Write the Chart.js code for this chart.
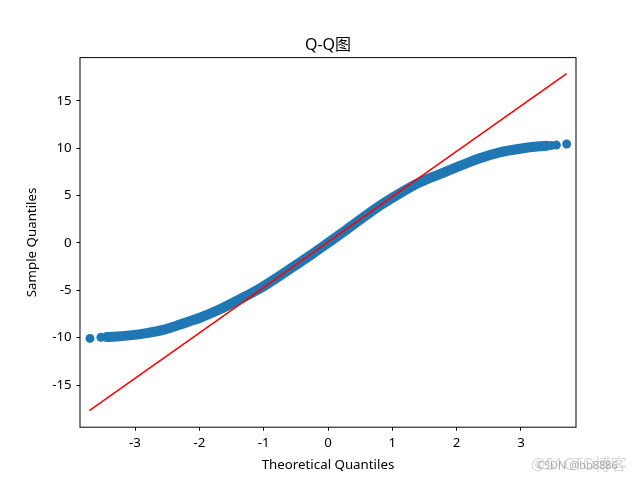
<!DOCTYPE html>
<html><head><meta charset="utf-8">
<script src="https://cdn.jsdelivr.net/npm/chart.js@4.4.1/dist/chart.umd.min.js"></script>
<style>html,body{margin:0;padding:0;background:#fff}canvas{display:block}</style>
</head><body>
<canvas id="c" width="640" height="480"></canvas>
<script>
const titleText = 'Q-Q图';
const xLabel = 'Theoretical Quantiles';
const yLabel = 'Sample Quantiles';
const xTicks = [-3, -2, -1, 0, 1, 2, 3];
const yTicks = [-15, -10, -5, 0, 5, 10, 15];
// dense part of the sample quantiles (read along the centre of the band)
const bandX = [-3.44, -3.34, -3.08, -2.82, -2.55, -2.31, -2.15, -1.99, -1.68, -1.37, -1.06, -0.75, -0.60, -0.23, 0.00, 0.29, 0.80, 1.11, 1.42, 1.73, 2.05, 2.36, 2.67, 2.98, 3.29, 3.40];
const bandY = [-9.94, -9.91, -9.76, -9.52, -9.15, -8.65, -8.28, -7.90, -7.01, -5.95, -4.82, -3.48, -2.80, -1.10, 0.00, 1.40, 3.90, 5.20, 6.36, 7.24, 8.12, 8.93, 9.55, 9.93, 10.19, 10.24];
// isolated extreme sample points
const tailX = [-3.70, -3.53, 3.47, 3.55, 3.71];
const tailY = [-10.08, -9.97, 10.27, 10.32, 10.43];
// reference line
const lineX = [-3.71, 3.71];
const lineY = [-17.7, 17.85];

const FONT = "'Noto Sans','Noto Sans CJK SC',sans-serif";
const toPts = (xs, ys) => xs.map((x, i) => ({x: x, y: ys[i]}));

const framePlugin = {
  id: 'frame',
  afterDraw(chart) {
    const {ctx, chartArea: a} = chart;
    ctx.save();
    ctx.strokeStyle = '#000';
    ctx.lineWidth = 1;
    ctx.strokeRect(a.left, a.top, a.right - a.left, a.bottom - a.top);
    ctx.fillStyle = '#000';
    ctx.font = '16px ' + FONT;
    ctx.textAlign = 'center';
    ctx.textBaseline = 'middle';
    ctx.fillText(titleText, (a.left + a.right) / 2, 45);
    ctx.font = '16px ' + FONT;
    ctx.fillStyle = 'rgba(200,200,200,0.7)';
    ctx.textAlign = 'left';
    ctx.fillText('@51CTO博客', 531, 465);
    ctx.font = '11px ' + FONT;
    ctx.fillStyle = 'rgba(150,150,150,0.8)';
    ctx.fillText('CSDN @bb8886', 537, 466);
    ctx.restore();
  }
};

const tickFont = {family: FONT, size: 13.3};

new Chart(document.getElementById('c'), {
  type: 'scatter',
  data: {
    datasets: [
      {
        label: 'line', data: toPts(lineX, lineY), showLine: true,
        borderColor: '#ff0000', borderWidth: 1.6, pointRadius: 0, order: 0
      },
      {
        label: 'tail', data: toPts(tailX, tailY), showLine: false,
        pointRadius: 4.5, backgroundColor: '#1f77b4', borderWidth: 0, order: 1
      },
      {
        label: 'band', data: toPts(bandX, bandY), showLine: true,
        borderColor: '#1f77b4', borderWidth: 10, pointRadius: 0,
        borderCapStyle: 'round', borderJoinStyle: 'round',
        cubicInterpolationMode: 'monotone', order: 2
      }
    ]
  },
  options: {
    responsive: false,
    animation: false,
    layout: {padding: {left: 0, right: 64, top: 57.6, bottom: 0}},
    plugins: {legend: {display: false}, tooltip: {enabled: false}, title: {display: false}},
    scales: {
      x: {
        type: 'linear', min: -3.855, max: 3.855,
        afterBuildTicks: s => { s.ticks = xTicks.map(v => ({value: v})); },
        afterFit: s => { s.height = 52.8; },
        grid: {drawOnChartArea: false, drawTicks: true, tickLength: 3.5, color: '#000', lineWidth: 1},
        border: {display: false},
        ticks: {color: '#000', font: tickFont, padding: 4.7, maxRotation: 0, autoSkip: false, callback: v => String(v)},
        title: {display: true, text: xLabel, color: '#000', font: tickFont, padding: {top: 0, bottom: 7}}
      },
      y: {
        type: 'linear', min: -19.45, max: 19.55,
        afterBuildTicks: s => { s.ticks = yTicks.map(v => ({value: v})); },
        afterFit: s => { s.width = 80; },
        grid: {drawOnChartArea: false, drawTicks: true, tickLength: 3.5, color: '#000', lineWidth: 1},
        border: {display: false},
        ticks: {color: '#000', font: tickFont, padding: 4.8, autoSkip: false, callback: v => String(v)},
        title: {display: true, text: yLabel, color: '#000', font: tickFont, padding: {top: 24, bottom: 0}}
      }
    }
  },
  plugins: [framePlugin]
});
</script>
</body></html>
